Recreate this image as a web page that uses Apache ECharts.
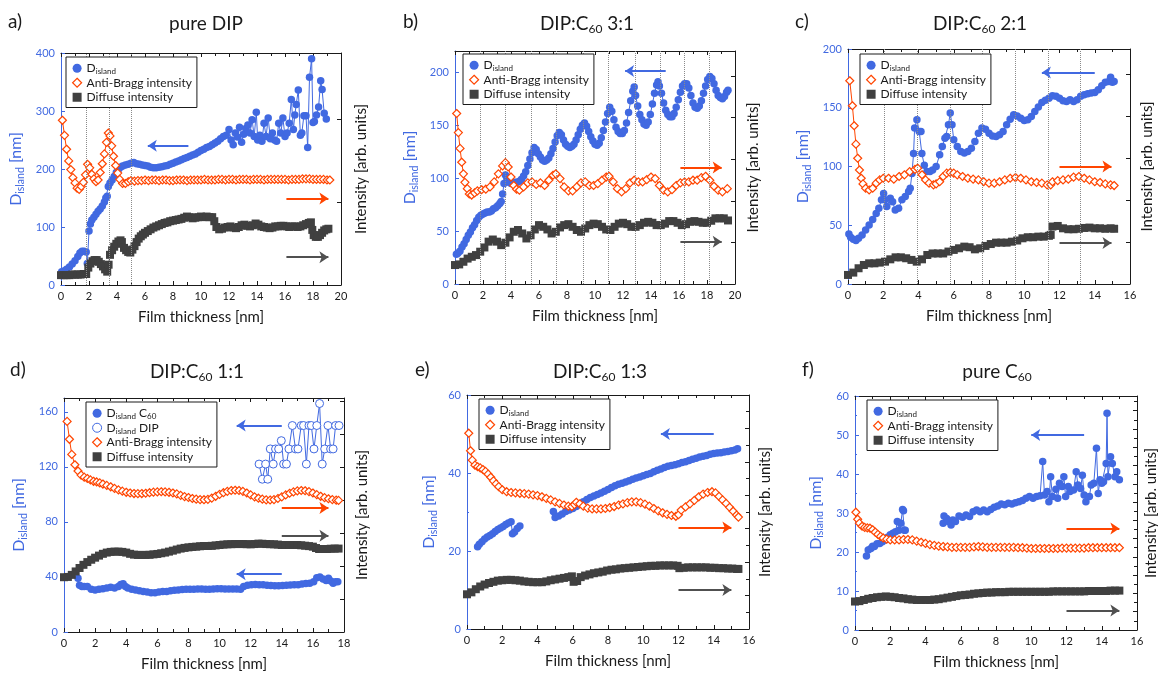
<!DOCTYPE html>
<html>
<head>
<meta charset="utf-8">
<script src="https://cdn.jsdelivr.net/npm/echarts@6/dist/echarts.min.js"></script>
<style>
html, body { margin: 0; padding: 0; background: #fff; }
#chart { width: 1158px; height: 673px; }
</style>
</head>
<body>
<div id="chart"></div>
<script>
// Island size and X-ray intensities versus film thickness for DIP:C60 films.
// Every series is a list of [film thickness (nm), value] pairs.

// ---- a) pure DIP ----
const pureDipIsland = [[0.05,23],[0.2,24],[0.4,27],[0.6,31],[0.8,36],[1.0,42],[1.2,49],[1.35,55],[1.5,58],[1.65,58],[1.8,57],[1.88,37],[2.0,93],[2.1,105],[2.2,112],[2.35,117],[2.5,122],[2.65,127],[2.8,131],[2.95,136],[3.1,143],[3.2,150],[3.3,153],[3.38,170],[3.5,176],[3.65,181],[3.8,187],[3.95,194],[4.1,199],[4.25,203],[4.4,205],[4.6,207],[4.8,208],[5.0,210],[5.2,211],[5.4,209],[5.6,208],[5.8,207],[6.0,206],[6.2,205],[6.4,203],[6.6,202],[6.8,202],[7.0,203],[7.2,204],[7.4,205],[7.6,206],[7.8,208],[8.0,210],[8.2,212],[8.4,214],[8.6,216],[8.8,218],[9.0,220],[9.2,222],[9.4,224],[9.6,226],[9.8,229],[10.0,232],[10.2,234],[10.4,237],[10.6,239],[10.8,242],[11.0,245],[11.2,248],[11.4,252],[11.6,256],[11.8,258],[12.0,268],[12.15,250],[12.3,242],[12.45,262],[12.6,255],[12.75,272],[12.9,246],[13.05,260],[13.2,270],[13.35,276],[13.5,262],[13.65,285],[13.8,256],[13.95,298],[14.05,250],[14.2,258],[14.35,248],[14.5,279],[14.65,256],[14.8,288],[14.95,252],[15.1,262],[15.25,250],[15.4,248],[15.55,279],[15.7,262],[15.85,288],[16.0,256],[16.15,262],[16.3,279],[16.45,320],[16.6,268],[16.7,293],[16.8,311],[16.95,336],[17.1,258],[17.2,262],[17.35,292],[17.5,292],[17.62,237],[17.75,358],[17.9,390],[18.0,280],[18.1,282],[18.25,293],[18.4,307],[18.55,352],[18.65,337],[18.8,296],[18.95,286]];
const pureDipAntiBragg = [[0.1,284],[0.25,258],[0.4,234],[0.55,214],[0.7,199],[0.85,185],[1.0,176],[1.15,167],[1.3,165],[1.45,170],[1.6,177],[1.75,190],[1.9,208],[2.05,202],[2.2,191],[2.35,183],[2.5,178],[2.65,181],[2.8,194],[2.95,209],[3.1,226],[3.25,246],[3.38,262],[3.5,257],[3.62,240],[3.75,222],[3.9,206],[4.05,193],[4.2,182],[4.4,175],[4.6,175],[4.8,178],[5.0,180],[5.25,179],[5.5,180],[5.75,180],[6.0,181],[6.25,180],[6.5,181],[6.75,181],[7.0,180],[7.25,181],[7.5,181],[7.75,180],[8.0,180],[8.25,181],[8.5,181],[8.75,181],[9.0,180],[9.25,181],[9.5,181],[9.75,181],[10.0,181],[10.25,182],[10.5,181],[10.75,181],[11.0,181],[11.25,182],[11.5,182],[11.75,181],[12.0,182],[12.25,182],[12.5,181],[12.75,182],[13.0,182],[13.25,182],[13.5,181],[13.75,182],[14.0,182],[14.25,182],[14.5,181],[14.75,182],[15.0,182],[15.25,182],[15.5,182],[15.75,182],[16.0,182],[16.25,181],[16.5,182],[16.75,182],[17.0,182],[17.25,183],[17.5,183],[17.75,183],[18.0,182],[18.25,182],[18.5,182],[18.75,182],[19.0,181],[19.2,181]];
const pureDipDiffuse = [[0,17],[0.2,17],[0.4,17],[0.6,17],[0.8,18],[1.0,18],[1.2,18],[1.4,18],[1.6,19],[1.8,19],[1.95,30],[2.1,37],[2.25,41],[2.4,43],[2.55,43],[2.7,40],[2.85,36],[3.0,32],[3.15,27],[3.3,23],[3.4,35],[3.5,52],[3.65,60],[3.8,66],[3.95,71],[4.1,75],[4.25,77],[4.35,74],[4.5,64],[4.65,60],[4.8,57],[4.95,56],[5.1,61],[5.25,67],[5.4,74],[5.55,80],[5.7,84],[5.85,87],[6.0,90],[6.2,93],[6.4,96],[6.6,99],[6.8,101],[7.0,103],[7.2,105],[7.4,107],[7.6,108],[7.8,110],[8.0,111],[8.2,112],[8.4,113],[8.6,114],[8.8,116],[9.0,118],[9.2,117],[9.4,115],[9.6,116],[9.8,117],[10.0,118],[10.2,117],[10.4,118],[10.6,117],[10.8,117],[10.95,110],[11.1,100],[11.3,96],[11.5,97],[11.7,99],[11.9,100],[12.1,101],[12.3,99],[12.5,98],[12.7,100],[12.9,103],[13.1,104],[13.3,102],[13.5,101],[13.7,103],[13.9,106],[14.1,104],[14.3,101],[14.5,100],[14.7,99],[14.9,98],[15.1,99],[15.3,101],[15.5,101],[15.7,102],[15.9,102],[16.1,101],[16.3,100],[16.5,101],[16.7,101],[16.9,100],[17.1,101],[17.3,103],[17.5,105],[17.7,107],[17.85,108],[17.95,95],[18.05,86],[18.2,83],[18.35,83],[18.5,86],[18.65,90],[18.8,94],[18.95,96],[19.1,97]];
const pureDipGuides = [1.83, 3.45, 5.0];
// arrows: [from, to, level, kind]
const pureDipArrows = [[9.1, 6.2, 240, 'island'], [16.1, 19.1, 149, 'antiBragg'], [16.1, 19.1, 48, 'diffuse']];

// ---- b) DIP:C60 3:1 ----
const mix31Island = [[0.1,28],[0.2,29],[0.35,31],[0.5,35],[0.65,38],[0.8,42],[0.95,46],[1.1,49],[1.25,53],[1.4,56],[1.55,60],[1.7,63],[1.85,65],[2.0,66],[2.15,67],[2.3,68],[2.45,68],[2.6,69],[2.75,71],[2.9,72],[3.05,74],[3.2,76],[3.3,78],[3.4,85],[3.5,95],[3.6,103],[3.7,100],[3.85,96],[4.0,95],[4.15,95],[4.3,96],[4.45,96],[4.6,97],[4.75,99],[4.9,102],[5.05,106],[5.2,112],[5.35,118],[5.5,124],[5.65,129],[5.8,127],[5.95,123],[6.1,120],[6.25,117],[6.4,116],[6.55,117],[6.7,119],[6.85,123],[7.0,128],[7.15,134],[7.3,140],[7.45,143],[7.6,141],[7.75,136],[7.9,132],[8.05,130],[8.2,129],[8.35,130],[8.5,132],[8.65,136],[8.8,141],[8.95,146],[9.1,150],[9.25,152],[9.4,149],[9.55,144],[9.7,139],[9.85,135],[10.0,132],[10.15,131],[10.3,133],[10.45,138],[10.6,145],[10.75,153],[10.9,161],[11.05,167],[11.2,163],[11.35,155],[11.5,148],[11.65,144],[11.8,142],[11.95,142],[12.1,145],[12.25,152],[12.4,162],[12.55,173],[12.7,182],[12.8,186],[12.9,178],[13.05,168],[13.2,160],[13.35,155],[13.5,151],[13.65,150],[13.8,153],[13.95,160],[14.1,170],[14.25,180],[14.4,188],[14.5,191],[14.6,187],[14.75,180],[14.9,171],[15.05,164],[15.2,160],[15.35,158],[15.5,158],[15.65,161],[15.8,167],[15.95,174],[16.1,181],[16.25,187],[16.4,189],[16.55,189],[16.7,185],[16.85,178],[17.0,171],[17.15,167],[17.3,166],[17.45,168],[17.6,173],[17.75,180],[17.9,187],[18.05,193],[18.2,196],[18.35,194],[18.5,189],[18.65,183],[18.8,178],[18.95,176],[19.1,175],[19.25,177],[19.4,181],[19.5,183]];
const mix31AntiBragg = [[0.12,161],[0.24,143],[0.36,128],[0.48,115],[0.6,104],[0.71,96],[0.88,90],[1.02,85],[1.19,84],[1.4,86],[1.6,88],[1.9,89],[2.2,89.5],[2.5,91.7],[2.8,96.4],[3.1,104],[3.4,111.5],[3.6,114.6],[3.8,110.5],[4.0,101],[4.2,93],[4.4,89.5],[4.6,88.5],[4.9,91.7],[5.2,95.5],[5.5,96.4],[5.8,94],[6.1,95.5],[6.4,93],[6.7,98],[7.0,102.7],[7.2,104],[7.5,99.5],[7.8,91.7],[8.1,88],[8.4,88],[8.7,91.7],[9.0,95.5],[9.3,96.4],[9.6,93],[9.9,93],[10.2,94.8],[10.5,98],[10.8,101],[11.0,101.7],[11.3,96.4],[11.6,90],[11.9,87],[12.2,90],[12.5,95.5],[12.8,98],[13.1,96.4],[13.4,96.4],[13.7,98.6],[14.0,101],[14.3,99.5],[14.6,93],[14.9,88.5],[15.2,87],[15.5,89],[15.8,93],[16.1,95.5],[16.4,96.4],[16.7,96.4],[17.0,98],[17.3,98],[17.6,100.5],[17.9,101.7],[18.2,98],[18.5,92.3],[18.8,88.5],[19.1,87],[19.45,90]];
const mix31Diffuse = [[0,17.9],[0.3,18.5],[0.6,21],[0.9,24],[1.2,25.7],[1.5,27.3],[1.8,30.5],[2.1,34.5],[2.4,40],[2.7,42],[3.0,40],[3.3,36.7],[3.6,39],[3.9,44],[4.2,49.3],[4.5,51],[4.8,47.7],[5.1,43],[5.4,46],[5.7,51.5],[6.0,55.6],[6.3,54],[6.6,51.5],[6.9,47.7],[7.2,49.3],[7.5,53.4],[7.8,55.6],[8.1,56.5],[8.4,54],[8.7,51],[9.0,49.3],[9.3,52.4],[9.6,55.6],[9.9,57],[10.2,56.5],[10.5,54],[10.8,51.5],[11.1,51],[11.4,54],[11.7,57],[12.0,57.8],[12.3,56.5],[12.6,54],[12.9,54],[13.2,55.6],[13.5,57.8],[13.8,58.7],[14.1,57.8],[14.4,55.6],[14.7,55.6],[15.0,57],[15.3,59.4],[15.6,59.4],[15.9,57.8],[16.2,55.6],[16.5,56.5],[16.8,58.7],[17.1,59.4],[17.4,58.7],[17.7,57.8],[18.0,57.8],[18.3,59.7],[18.6,62],[18.9,62],[19.2,62],[19.5,60]];
const mix31Guides = [1.83, 3.57, 5.48, 7.26, 9.17, 10.95, 12.86, 14.64, 16.38, 18.17];
const mix31Arrows = [[15.05, 12.15, 201, 'island'], [16.1, 19.05, 110, 'antiBragg'], [16.1, 19.05, 40, 'diffuse']];

// ---- c) DIP:C60 2:1 ----
const mix21Island = [[0.05,42.6],[0.15,39.8],[0.3,38],[0.45,37],[0.6,39],[0.8,41.8],[1.0,46],[1.2,50.3],[1.4,55],[1.6,60],[1.75,64.5],[1.9,71.6],[2.02,77],[2.1,71.6],[2.2,66],[2.4,73],[2.53,70],[2.68,63],[2.87,64.5],[3.06,71.6],[3.25,74.4],[3.44,78.7],[3.53,81.5],[3.63,94],[3.72,111],[3.78,132.7],[3.91,139.8],[4.04,129.8],[4.14,129.8],[4.19,111],[4.33,101],[4.48,95.7],[4.65,95.7],[4.8,97],[5.0,100],[5.2,110],[5.35,117],[5.5,124],[5.6,125.6],[5.7,135.5],[5.8,145.5],[5.9,135.5],[6.0,122.7],[6.2,117],[6.4,112.8],[6.6,111.4],[6.8,112.8],[7.0,115.6],[7.2,121.3],[7.4,128.4],[7.6,132.7],[7.8,131.8],[8.0,128.4],[8.2,126],[8.4,125.6],[8.6,127],[8.8,129.8],[9.0,135.5],[9.2,140.3],[9.4,144],[9.6,143],[9.8,141],[10.0,139.2],[10.2,139.8],[10.4,142.6],[10.6,146.9],[10.8,150.6],[11.0,154.5],[11.2,156.3],[11.4,158],[11.6,160.2],[11.8,159.7],[12.0,158],[12.2,156],[12.4,155.4],[12.6,156.8],[12.8,155.4],[13.0,156.8],[13.2,159.7],[13.4,161],[13.6,162],[13.8,162.5],[14.0,163],[14.2,165.3],[14.4,168.8],[14.6,171.6],[14.8,172.4],[14.9,176],[15.0,171.6],[15.1,172.4]];
const mix21AntiBragg = [[0.1,173],[0.25,151.7],[0.35,134.7],[0.45,119],[0.55,107],[0.65,97],[0.75,90],[0.85,85.2],[1.0,81.5],[1.2,80],[1.4,81.5],[1.6,85.8],[1.8,88.6],[2.0,90],[2.3,90],[2.6,89.2],[2.9,91.5],[3.2,92.9],[3.5,95.7],[3.8,97.5],[3.95,98.6],[4.2,93],[4.4,88.6],[4.6,85.8],[4.85,84.4],[5.0,85.2],[5.2,87],[5.4,91.5],[5.6,94.3],[5.8,94.9],[6.0,94.3],[6.2,92.9],[6.5,91.5],[6.8,90],[7.1,89.2],[7.4,88.6],[7.7,87],[8.0,85.8],[8.3,85.8],[8.6,87],[8.9,88.6],[9.2,90],[9.5,90.6],[9.8,90],[10.1,88.6],[10.4,87],[10.7,86.4],[11.0,85.8],[11.3,84.4],[11.5,84.4],[11.6,87],[11.9,88],[12.2,88.6],[12.5,89.2],[12.8,91],[13.1,91.5],[13.4,90],[13.7,88.6],[14.0,87],[14.3,86.4],[14.6,85.2],[14.9,84.4],[15.1,83.8]];
const mix21Diffuse = [[0,7.7],[0.3,9.7],[0.6,13.4],[0.9,16.2],[1.2,17.6],[1.5,17.6],[1.8,18.2],[2.1,19],[2.4,21],[2.7,22.7],[3.0,22.7],[3.3,21.9],[3.6,20.5],[3.9,19],[4.2,21],[4.5,24.7],[4.8,26],[5.1,26],[5.4,26],[5.7,27.6],[6.0,29],[6.3,30.4],[6.6,31.8],[6.9,31.3],[7.2,29.5],[7.5,30.4],[7.8,32.4],[8.1,34],[8.4,35.2],[8.7,35.2],[9.0,35.2],[9.3,36],[9.6,37],[9.9,38.9],[10.2,39.8],[10.5,39.8],[10.8,40.3],[11.1,40.3],[11.4,41],[11.5,41.8],[11.6,48.9],[11.9,49.4],[12.2,47.4],[12.5,46.6],[12.8,46.6],[13.1,47],[13.4,47.7],[13.7,48],[14.0,47.4],[14.3,47.4],[14.6,47],[14.9,47.4],[15.1,47]];
const mix21Guides = [2.07, 3.91, 5.8, 7.59, 9.48, 11.37, 13.2];
const mix21Arrows = [[14.0, 11.0, 180, 'island'], [12.0, 14.95, 100, 'antiBragg'], [12.0, 14.95, 35, 'diffuse']];

// ---- d) DIP:C60 1:1 ----
const mix11IslandC60 = [[0.9,39],[1.0,34],[1.15,33],[1.3,33],[1.5,33],[1.75,31],[2.0,30.5],[2.25,31],[2.5,31.5],[2.75,32],[3.0,32.5],[3.25,32],[3.5,33],[3.65,34.5],[3.8,35],[3.95,33],[4.1,32],[4.35,31],[4.6,30.5],[4.85,30],[5.1,29.5],[5.35,29],[5.6,28.5],[5.85,28.5],[6.1,29],[6.35,29.5],[6.6,29.5],[6.85,30],[7.1,30.3],[7.35,30.5],[7.6,30.8],[7.85,31],[8.1,31],[8.35,31],[8.6,31.2],[8.85,31.2],[9.1,31],[9.35,31],[9.6,31.2],[9.85,31.4],[10.1,31.4],[10.35,31.2],[10.6,31.2],[10.85,31.2],[11.1,31.2],[11.35,31],[11.55,33],[11.8,34],[12.05,34.3],[12.3,34.5],[12.55,34.3],[12.8,34.3],[13.05,34],[13.3,33.8],[13.55,33.6],[13.8,33.6],[14.05,33.8],[14.3,34],[14.55,34.2],[14.8,34.3],[15.05,34.4],[15.3,34.8],[15.55,35.2],[15.8,35.5],[16.05,36.5],[16.25,39.5],[16.45,40],[16.65,38.5],[16.85,37.5],[17.0,39],[17.15,37],[17.3,35.5],[17.45,36.5],[17.6,36.5]];
const mix11IslandDip = [[12.54,122],[12.75,111],[12.96,122],[13.1,111],[13.26,133],[13.45,122],[13.6,133],[13.8,133],[13.97,139],[14.12,122],[14.3,122],[14.46,133],[14.68,150],[14.88,133],[15.04,133],[15.25,150],[15.4,150],[15.58,122],[15.75,150],[15.9,150],[16.07,133],[16.25,150],[16.43,166],[16.6,122],[16.76,133],[16.97,150],[17.14,133],[17.3,133],[17.46,150],[17.68,150]];
const mix11AntiBragg = [[0.2,153],[0.35,140],[0.5,129],[0.7,121.5],[0.9,117],[1.1,114],[1.3,112.5],[1.5,111.5],[1.7,110.5],[1.9,109.5],[2.1,109],[2.3,108.3],[2.5,107.5],[2.75,106.5],[3.0,105.5],[3.25,104.3],[3.5,103.2],[3.75,102.3],[4.0,101.5],[4.25,101],[4.5,100.6],[4.75,100.5],[5.0,100.6],[5.25,100.8],[5.5,101.2],[5.75,101.6],[6.0,101.8],[6.25,101.9],[6.5,101.8],[6.75,101.5],[7.0,101],[7.25,100.3],[7.5,99.3],[7.75,98.4],[8.0,97.7],[8.25,97],[8.5,96.5],[8.75,96.2],[9.0,96.1],[9.25,96.4],[9.5,97.3],[9.75,98.6],[10.0,100],[10.25,101.2],[10.5,102.2],[10.75,102.8],[11.0,103],[11.25,102.8],[11.5,102.2],[11.75,101],[12.0,99.6],[12.25,98.2],[12.5,97.2],[12.75,96.5],[13.0,96],[13.25,95.9],[13.5,96.2],[13.75,97],[14.0,98.2],[14.25,99.6],[14.5,100.8],[14.75,101.8],[15.0,102.5],[15.25,102.8],[15.5,102.6],[15.75,102],[16.0,101],[16.25,99.8],[16.5,98.6],[16.75,97.6],[17.0,96.8],[17.25,96.2],[17.5,95.8],[17.65,95.6]];
const mix11Diffuse = [[0,39.8],[0.25,40],[0.5,41.5],[0.75,44],[1.0,46.5],[1.25,48.8],[1.5,50.8],[1.75,52.5],[2.0,54],[2.25,55.5],[2.5,56.8],[2.75,57.7],[3.0,58.2],[3.25,58.4],[3.5,58.4],[3.75,58.2],[4.0,57.7],[4.25,56.8],[4.5,56.2],[4.75,56],[5.0,56],[5.25,56],[5.5,56.1],[5.75,56.4],[6.0,56.7],[6.25,57.2],[6.5,57.7],[6.75,58.4],[7.0,59.1],[7.25,59.9],[7.5,60.6],[7.75,61.1],[8.0,61.5],[8.25,61.8],[8.5,62],[8.75,62.3],[9.0,62.5],[9.25,62.5],[9.5,62.6],[9.75,62.9],[10.0,63.2],[10.25,63.5],[10.5,63.7],[10.75,63.8],[11.0,63.9],[11.25,63.9],[11.5,63.9],[11.75,63.8],[12.0,63.7],[12.25,63.9],[12.5,64.2],[12.75,64.1],[13.0,63.9],[13.25,63.8],[13.5,63.7],[13.75,63.5],[14.0,63.2],[14.25,63.2],[14.5,63.2],[14.75,63.2],[15.0,63.2],[15.25,63],[15.5,62.7],[15.75,62.4],[16.0,62],[16.2,61],[16.4,60.3],[16.65,60.3],[16.9,60.3],[17.15,60.5],[17.4,60.6],[17.65,60.6]];
const mix11Arrows = [[14.0, 11.1, 150, 'island'], [14.0, 17.0, 90, 'antiBragg'], [14.0, 17.0, 70, 'diffuse'], [14.0, 11.1, 42, 'island']];

// ---- e) DIP:C60 1:3 ----
const mix13Island = [[0.6,21.1],[0.7,21.7],[0.85,22.4],[1.0,23.1],[1.15,23.6],[1.3,24],[1.45,24.4],[1.6,25],[1.75,25.5],[1.9,25.9],[2.05,26.3],[2.2,26.8],[2.35,27.2],[2.5,27.5],[2.58,24.4],[2.7,24.9],[2.85,25.8],[3.0,26.4],[4.0,null],[4.9,30.1],[5.0,28.6],[5.2,29],[5.4,29.5],[5.6,30.1],[5.8,30.5],[6.0,30.9],[6.2,31.4],[6.4,32],[6.6,32.6],[6.8,33.2],[7.0,33.7],[7.2,34.1],[7.4,34.5],[7.6,34.9],[7.8,35.3],[8.0,35.8],[8.2,36.3],[8.4,36.7],[8.6,37.1],[8.8,37.4],[9.0,37.7],[9.2,38],[9.4,38.4],[9.6,38.7],[9.8,39],[10.0,39.3],[10.2,39.6],[10.4,39.9],[10.6,40.3],[10.8,40.7],[11.0,41],[11.2,41.4],[11.4,41.7],[11.6,41.9],[11.8,42.1],[12.0,42.4],[12.2,42.7],[12.4,42.9],[12.6,43.2],[12.8,43.5],[13.0,43.8],[13.2,44.1],[13.4,44.3],[13.6,44.5],[13.8,44.8],[14.0,45],[14.2,45.1],[14.4,45.2],[14.6,45.4],[14.8,45.5],[15.0,45.7],[15.2,45.9],[15.35,46.2]];
const mix13AntiBragg = [[0.1,50.2],[0.2,45.7],[0.3,43.3],[0.45,42],[0.6,41.6],[0.75,41.3],[0.9,40.9],[1.05,40.4],[1.2,39.7],[1.35,38.9],[1.5,38],[1.65,37.2],[1.8,36.5],[2.0,35.7],[2.25,35.2],[2.5,35],[2.75,34.9],[3.0,34.8],[3.25,34.7],[3.5,34.6],[3.75,34.4],[4.0,34.2],[4.25,33.9],[4.5,33.5],[4.75,33.1],[5.0,32.6],[5.25,32.2],[5.5,31.8],[5.75,31.5],[5.95,31.4],[6.1,31.9],[6.2,32.5],[6.4,32.1],[6.6,31.5],[6.85,31],[7.1,30.8],[7.35,30.8],[7.6,30.8],[7.85,30.9],[8.1,31.1],[8.35,31.4],[8.6,31.8],[8.85,32.1],[9.1,32.4],[9.35,32.6],[9.6,32.6],[9.85,32.4],[10.1,32],[10.35,31.5],[10.6,30.9],[10.85,30.3],[11.1,29.8],[11.35,29.4],[11.6,29.1],[11.85,28.9],[12.0,29.3],[12.15,30.5],[12.4,31.3],[12.65,32.1],[12.9,33],[13.15,33.9],[13.4,34.6],[13.65,35],[13.9,35.2],[14.1,34.9],[14.3,34],[14.5,33.1],[14.7,32.2],[14.9,31.2],[15.1,30.2],[15.3,29.2],[15.4,28.7]];
const mix13Diffuse = [[0,8.9],[0.25,9.4],[0.5,10.2],[0.75,10.9],[1.0,11.4],[1.25,11.8],[1.5,12.1],[1.75,12.4],[2.0,12.5],[2.25,12.6],[2.5,12.6],[2.75,12.5],[3.0,12.4],[3.25,12.2],[3.5,12.1],[3.75,12],[4.0,12],[4.25,12],[4.5,12.2],[4.75,12.5],[5.0,12.7],[5.25,12.9],[5.5,13.1],[5.75,13.3],[5.95,13.5],[6.05,12.1],[6.25,12.3],[6.45,13.3],[6.7,13.7],[6.95,14],[7.2,14.3],[7.45,14.5],[7.7,14.7],[7.95,15],[8.2,15.2],[8.45,15.3],[8.7,15.5],[8.95,15.6],[9.2,15.7],[9.45,15.8],[9.7,15.9],[9.95,16],[10.2,16.1],[10.45,16.2],[10.7,16.2],[10.95,16.3],[11.2,16.3],[11.45,16.3],[11.7,16.3],[11.95,16.2],[12.05,15.6],[12.3,15.7],[12.55,15.8],[12.8,15.8],[13.05,15.8],[13.3,15.8],[13.55,15.8],[13.8,15.7],[14.05,15.7],[14.3,15.6],[14.55,15.6],[14.8,15.5],[15.05,15.5],[15.3,15.4],[15.4,15.4]];
const mix13Arrows = [[14.0, 11.0, 50, 'island'], [12.0, 15.0, 26, 'antiBragg'], [12.0, 15.0, 10, 'diffuse']];

// ---- f) pure C60 ----
const pureC60Island = [[0.65,19],[0.75,20.5],[0.9,20.9],[1.0,21.5],[1.1,21.4],[1.25,22.1],[1.4,22.2],[1.55,22.6],[1.7,23.1],[1.85,23.8],[2.0,24.4],[2.15,24.8],[2.3,25.2],[2.4,27.8],[2.5,25.6],[2.6,27.4],[2.7,30.9],[2.75,30.6],[2.8,25.6],[2.85,25.6],[4.0,null],[5.0,27.4],[5.05,29.2],[5.2,28.6],[5.3,27.8],[5.45,26.9],[5.55,28.2],[5.7,27.8],[5.9,29.2],[6.1,28.9],[6.3,29.5],[6.5,29.1],[6.7,30.3],[6.9,30.8],[7.1,30.3],[7.3,30.8],[7.5,30.3],[7.7,30.9],[7.9,31.5],[8.1,31.8],[8.3,32.3],[8.5,32.1],[8.7,32.5],[8.9,32.3],[9.1,32.6],[9.3,32.9],[9.5,33.2],[9.7,33.8],[9.9,34.2],[10.1,33.8],[10.3,34.2],[10.5,34.4],[10.65,43.2],[10.75,34.6],[10.9,35.5],[11.0,32.9],[11.1,39.3],[11.2,34.2],[11.4,36.1],[11.5,33.8],[11.6,37.6],[11.75,36.8],[11.85,39.3],[11.95,34.2],[12.1,36.8],[12.2,35.5],[12.4,35.9],[12.55,40.6],[12.65,37.2],[12.8,36.3],[12.9,39.7],[13.0,34.6],[13.1,32.9],[13.3,34.2],[13.4,37.2],[13.55,37.6],[13.7,46.6],[13.8,35],[13.9,38.5],[14.0,37.6],[14.1,38],[14.25,42.7],[14.3,55.6],[14.35,39.3],[14.5,44.4],[14.6,42.7],[14.75,39.3],[14.85,40.6],[15.0,38.5]];
const pureC60AntiBragg = [[0.05,30.2],[0.15,28.4],[0.25,27.4],[0.4,26.6],[0.55,26.3],[0.7,26.2],[0.85,26.1],[1.0,25.7],[1.15,25.1],[1.3,24.5],[1.45,24],[1.6,23.6],[1.8,23.3],[2.0,23.1],[2.25,23.1],[2.5,23.1],[2.75,23.2],[3.0,23.2],[3.25,23.1],[3.5,22.8],[3.75,22.5],[4.0,22.2],[4.25,21.9],[4.5,21.7],[4.75,21.5],[5.0,21.4],[5.25,21.3],[5.5,21.2],[5.75,21.2],[6.0,21.2],[6.25,21.2],[6.5,21.2],[6.75,21.3],[7.0,21.4],[7.25,21.3],[7.5,21.2],[7.75,21.2],[8.0,21.2],[8.25,21.2],[8.5,21.2],[8.75,21.2],[9.0,21.2],[9.25,21.1],[9.5,21.1],[9.75,21.0],[10.0,20.9],[10.25,20.9],[10.5,20.9],[10.75,20.9],[11.0,20.9],[11.25,20.9],[11.5,20.9],[11.75,21],[12.0,21],[12.25,21],[12.5,21],[12.75,21],[13.0,21],[13.25,21.1],[13.5,21.1],[13.75,21.1],[14.0,21.1],[14.25,21.1],[14.5,21.1],[14.75,21.1],[15.0,21.1]];
const pureC60Diffuse = [[0,7.3],[0.25,7.4],[0.5,7.7],[0.75,8],[1.0,8.2],[1.25,8.4],[1.5,8.5],[1.75,8.6],[2.0,8.5],[2.25,8.4],[2.5,8.2],[2.75,8.1],[3.0,7.9],[3.25,7.8],[3.5,7.7],[3.75,7.7],[4.0,7.7],[4.25,7.7],[4.5,7.8],[4.75,7.9],[5.0,8.1],[5.25,8.3],[5.5,8.5],[5.75,8.7],[6.0,8.9],[6.25,9],[6.5,9.1],[6.75,9.3],[7.0,9.4],[7.25,9.5],[7.5,9.6],[7.75,9.6],[8.0,9.7],[8.25,9.7],[8.5,9.7],[8.75,9.8],[9.0,9.8],[9.25,9.8],[9.5,9.8],[9.75,9.8],[10.0,9.8],[10.25,9.8],[10.5,9.8],[10.75,9.8],[11.0,9.8],[11.25,9.9],[11.5,9.9],[11.75,9.9],[12.0,9.9],[12.25,9.9],[12.5,9.9],[12.75,9.9],[13.0,9.9],[13.25,10],[13.5,10],[13.75,10],[14.0,10],[14.25,10],[14.5,10.1],[14.75,10.1],[15.0,10.1]];
const pureC60Arrows = [[13.0, 10.0, 50, 'island'], [12.0, 15.0, 26, 'antiBragg'], [12.0, 15.0, 5, 'diffuse']];

// ---- styling ----
const FONT = 'Lato, "DejaVu Sans", sans-serif';
const BLUE = '#4169e1';
const ORANGE = '#ff4500';
const GRAY = '#404040';
const INK = '#1a1a1a';

const panels = [
  { letter: 'a)', title: '{m|pure DIP}', letterAt: [8, 22], titleAt: [206, 22],
    box: { left: 61, top: 53, width: 280, height: 232 }, xMax: 20, yMax: 400, yStep: 100, rMax: 2.8, rMinor: false,
    leftGap: 35, rightGap: 13, legendAt: [66, 57],
    island: pureDipIsland, antiBragg: pureDipAntiBragg, diffuse: pureDipDiffuse, guides: pureDipGuides, arrows: pureDipArrows },
  { letter: 'b)', title: '{m|DIP:C}{s|60}{m| 3:1}', letterAt: [403, 22], titleAt: [587, 22],
    box: { left: 455, top: 51, width: 280, height: 233 }, xMax: 20, yMax: 220, yStep: 50, rMax: 5.6, rMinor: false,
    leftGap: 35, rightGap: 11, legendAt: [463, 54],
    island: mix31Island, antiBragg: mix31AntiBragg, diffuse: mix31Diffuse, guides: mix31Guides, arrows: mix31Arrows },
  { letter: 'c)', title: '{m|DIP:C}{s|60}{m| 2:1}', letterAt: [795, 22], titleAt: [980, 22],
    box: { left: 848, top: 49, width: 282, height: 235 }, xMax: 16, yMax: 200, yStep: 50, rMax: 5.6, rMinor: false,
    leftGap: 35, rightGap: 9.5, legendAt: [860, 54],
    island: mix21Island, antiBragg: mix21AntiBragg, diffuse: mix21Diffuse, guides: mix21Guides, arrows: mix21Arrows },
  { letter: 'd)', title: '{m|DIP:C}{s|60}{m| 1:1}', letterAt: [10, 370], titleAt: [197, 370],
    box: { left: 64, top: 398, width: 280, height: 234 }, xMax: 18, yMax: 170, yStep: 40, rMax: 7.1, rMinor: false,
    leftGap: 35, rightGap: 10.5, legendAt: [86, 402],
    island: mix11IslandC60, islandDip: mix11IslandDip, antiBragg: mix11AntiBragg, diffuse: mix11Diffuse, guides: [], arrows: mix11Arrows },
  { letter: 'e)', title: '{m|DIP:C}{s|60}{m| 1:3}', letterAt: [415, 370], titleAt: [600, 370],
    box: { left: 467, top: 395, width: 282, height: 234 }, xMax: 16, yMax: 60, yStep: 20, rMax: 7, rMinor: true,
    leftGap: 28, rightGap: 9, legendAt: [479, 399],
    island: mix13Island, antiBragg: mix13AntiBragg, diffuse: mix13Diffuse, guides: [], arrows: mix13Arrows },
  { letter: 'f)', title: '{m|pure C}{s|60}', letterAt: [802, 370], titleAt: [997, 370],
    box: { left: 855, top: 396, width: 282, height: 234 }, xMax: 16, yMax: 60, yStep: 10, rMax: 12.8, rMinor: true,
    leftGap: 29.5, rightGap: 7, legendAt: [867, 400],
    island: pureC60Island, antiBragg: pureC60AntiBragg, diffuse: pureC60Diffuse, guides: [], arrows: pureC60Arrows }
];

const arrowColor = { island: BLUE, antiBragg: ORANGE, diffuse: '#505050' };

const legendLabel = {
  'Disland': '{m|D}{s|island}',
  'Disland C60': '{m|D}{s|island}{m| C}{s|60}',
  'Disland DIP': '{m|D}{s|island}{m| DIP}',
  'Anti-Bragg intensity': 'Anti-Bragg intensity',
  'Diffuse intensity': 'Diffuse intensity'
};
const legendIcon = {
  'Disland': { icon: 'circle', itemStyle: { color: BLUE, borderWidth: 0 } },
  'Disland C60': { icon: 'circle', itemStyle: { color: BLUE, borderWidth: 0 } },
  'Disland DIP': { icon: 'circle', itemStyle: { color: '#fff', borderColor: BLUE, borderWidth: 1 } },
  'Anti-Bragg intensity': { icon: 'diamond', itemStyle: { color: '#fff', borderColor: ORANGE, borderWidth: 1.2 } },
  'Diffuse intensity': { icon: 'rect', itemStyle: { color: GRAY, borderWidth: 0 } }
};

const option = {
  animation: false,
  backgroundColor: '#fff',
  grid: [], xAxis: [], yAxis: [], series: [], legend: [], graphic: []
};

function frameLine(color) {
  return { show: true, onZero: false, lineStyle: { color: color, width: 1 } };
}

panels.forEach(function (p, i) {
  option.grid.push({ left: p.box.left, top: p.box.top, width: p.box.width, height: p.box.height,
    containLabel: false, outerBoundsMode: 'none' });

  const xCommon = { type: 'value', gridIndex: i, min: 0, max: p.xMax, interval: 2,
    splitLine: { show: false }, minorSplitLine: { show: false },
    axisTick: { show: true, inside: true, length: 4, lineStyle: { color: INK } },
    minorTick: { show: true, splitNumber: 2, length: 3, lineStyle: { color: INK } },
    axisLine: frameLine(INK) };
  option.xAxis.push(Object.assign({}, xCommon, {
    position: 'bottom',
    axisLabel: { show: true, margin: 6, color: INK, fontSize: 11, fontFamily: FONT },
    name: 'Film thickness [nm]', nameLocation: 'middle', nameGap: 25, nameMoveOverlap: false,
    nameTextStyle: { fontSize: 15, color: INK, fontFamily: FONT }
  }));
  option.xAxis.push(Object.assign({}, xCommon, { position: 'top', axisLabel: { show: false } }));

  option.yAxis.push({ type: 'value', gridIndex: i, position: 'left', min: 0, max: p.yMax, interval: p.yStep,
    splitLine: { show: false }, minorSplitLine: { show: false },
    axisLine: frameLine(BLUE),
    axisTick: { show: true, inside: true, length: 4, lineStyle: { color: BLUE } },
    minorTick: { show: p.rMinor, splitNumber: 2, length: 2, lineStyle: { color: BLUE } },
    axisLabel: { show: true, margin: 6, color: BLUE, fontSize: 11, fontFamily: FONT, showMaxLabel: p.yMax % p.yStep === 0 },
    name: '{m|D}{s|island} [nm]', nameLocation: 'middle', nameRotate: 90, nameGap: p.leftGap, nameMoveOverlap: false,
    nameTextStyle: { fontSize: 16, color: BLUE, fontFamily: FONT, lineHeight: 20,
      rich: { m: { fontSize: 16, color: BLUE, fontFamily: FONT, lineHeight: 20 },
              s: { fontSize: 10.5, color: BLUE, fontFamily: FONT, lineHeight: 7, verticalAlign: 'bottom' } } }
  });
  option.yAxis.push({ type: 'value', gridIndex: i, position: 'right', min: 0, max: p.rMax, interval: 1,
    splitLine: { show: false }, minorSplitLine: { show: false },
    axisLine: frameLine(INK),
    axisTick: { show: true, inside: true, length: 4, lineStyle: { color: INK } },
    minorTick: { show: p.rMinor, splitNumber: 2, length: 3, lineStyle: { color: INK } },
    axisLabel: { show: false },
    name: 'Intensity [arb. units]', nameLocation: 'middle', nameRotate: 90, nameGap: p.rightGap, nameMoveOverlap: false,
    nameTextStyle: { fontSize: 15, color: INK, fontFamily: FONT }
  });

  const ax = { xAxisIndex: 2 * i, yAxisIndex: 2 * i };
  const quiet = { silent: true, emphasis: { disabled: true } };
  const names = [];

  // thickness markers of completed layers
  if (p.guides.length) {
    option.series.push(Object.assign({ type: 'line', name: 'layers', data: [], z: 1,
      markLine: { silent: true, symbol: 'none', label: { show: false }, animation: false,
        lineStyle: { type: 'dotted', color: '#8a8a8a', width: 1 },
        data: p.guides.map(function (v) { return { xAxis: v }; }) } }, ax, quiet));
  }

  const islandName = p.islandDip ? 'Disland C60' : 'Disland';
  names.push(islandName);
  option.series.push(Object.assign({ type: 'line', name: islandName, data: p.island, z: 3,
    symbol: 'circle', symbolSize: 7.5, showAllSymbol: true, connectNulls: false,
    itemStyle: { color: BLUE }, lineStyle: { color: BLUE, width: 1 } }, ax, quiet));

  if (p.islandDip) {
    names.push('Disland DIP');
    option.series.push(Object.assign({ type: 'line', name: 'Disland DIP', data: p.islandDip, z: 3,
      symbol: 'circle', symbolSize: 8, showAllSymbol: true,
      itemStyle: { color: '#fff', borderColor: BLUE, borderWidth: 1 }, lineStyle: { color: BLUE, width: 1 } }, ax, quiet));
  }

  names.push('Anti-Bragg intensity');
  option.series.push(Object.assign({ type: 'line', name: 'Anti-Bragg intensity', data: p.antiBragg, z: 3,
    symbol: 'diamond', symbolSize: 8, showAllSymbol: true,
    itemStyle: { color: '#fff', borderColor: ORANGE, borderWidth: 1.2 }, lineStyle: { color: ORANGE, width: 1 } }, ax, quiet));

  names.push('Diffuse intensity');
  option.series.push(Object.assign({ type: 'line', name: 'Diffuse intensity', data: p.diffuse, z: 3,
    symbol: 'rect', symbolSize: 8, showAllSymbol: true,
    itemStyle: { color: GRAY }, lineStyle: { color: GRAY, width: 1 } }, ax, quiet));

  // arrows pointing to the axis each curve belongs to
  option.series.push(Object.assign({ type: 'line', name: 'axis arrows', data: [], z: 4,
    markLine: { silent: true, symbol: ['none', 'arrow'], symbolSize: 9, label: { show: false }, animation: false,
      data: p.arrows.map(function (a) {
        return [{ coord: [a[0], a[2]], lineStyle: { color: arrowColor[a[3]], width: 2, type: 'solid' } },
                { coord: [a[1], a[2]] }];
      }) } }, ax, quiet));

  option.legend.push({
    left: p.legendAt[0], top: p.legendAt[1], orient: 'vertical', z: 6,
    backgroundColor: '#fff', borderColor: INK, borderWidth: 1, borderRadius: 0,
    padding: [4, 5, 3, 6], itemGap: 0, itemWidth: 9, itemHeight: 9, selectedMode: false,
    textStyle: { fontFamily: FONT, fontSize: 12, color: INK, lineHeight: 14.5,
      rich: { m: { fontFamily: FONT, fontSize: 12, color: INK, lineHeight: 14.5 },
              s: { fontFamily: FONT, fontSize: 8, color: INK, lineHeight: 6, verticalAlign: 'bottom' } } },
    formatter: function (name) { return legendLabel[name]; },
    data: names.map(function (n) { return Object.assign({ name: n }, legendIcon[n]); })
  });

  option.graphic.push({ type: 'text', x: p.letterAt[0], y: p.letterAt[1], silent: true,
    style: { text: p.letter, fill: INK, font: '19px ' + FONT, textAlign: 'left', align: 'left',
             textVerticalAlign: 'middle', verticalAlign: 'middle' } });
  option.graphic.push({ type: 'text', x: p.titleAt[0], y: p.titleAt[1] + 2, silent: true,
    style: { text: p.title, fill: INK, font: '19px ' + FONT,
             textAlign: 'center', align: 'center', textVerticalAlign: 'middle', verticalAlign: 'middle',
             rich: { m: { fontSize: 19, fontFamily: FONT, fill: INK, lineHeight: 22 },
                     s: { fontSize: 12, fontFamily: FONT, fill: INK, lineHeight: 10, verticalAlign: 'bottom' } } } });
});

const chart = echarts.init(document.getElementById('chart'), null, { renderer: 'canvas' });
chart.setOption(option);
</script>
</body>
</html>
